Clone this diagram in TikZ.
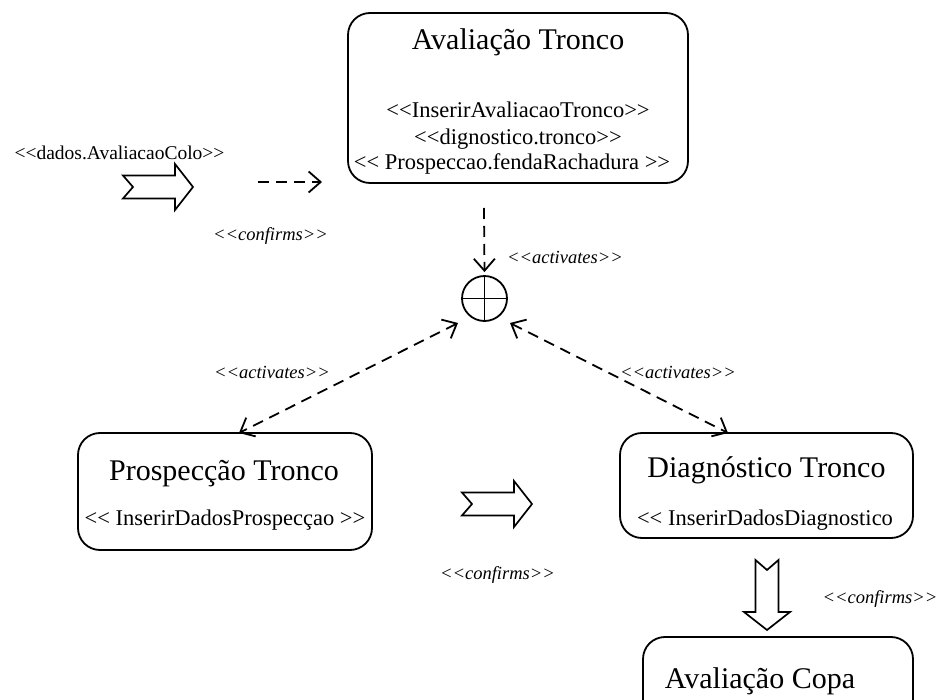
\documentclass[tikz,border=0pt]{standalone}
\usepackage{fontspec}
\setmainfont{Liberation Serif}
\usetikzlibrary{arrows.meta}
\newcommand\dgTitle{\fontsize{30}{34}\selectfont}
\newcommand\dgSub{\fontsize{22.5}{26}\selectfont}
\newcommand\dgLbl{\fontsize{18.5}{22}\selectfont\itshape}
\newcommand\dgData{\fontsize{19.5}{24}\selectfont}
\begin{document}
\begin{tikzpicture}[x=1pt,y=-1pt,
  box/.style={draw, line width=1.8pt, rounded corners=22pt, inner sep=0pt, outer sep=0pt},
  txt/.style={anchor=base, inner sep=0pt},
  barb/.tip={Straight Barb[length=12pt,width=21pt,line width=1.8pt]},
  dep/.style={line width=1.8pt, dash pattern=on 11pt off 7pt, -barb},
  dep2/.style={line width=1.8pt, dash pattern=on 11pt off 7pt, barb-barb},
  blockarrow/.pic={\draw[line width=1.7pt, line join=miter]
    (0,-11.5) -- (52,-11.5) -- (52,-23) -- (70,0) -- (52,23) -- (52,11.5)
    -- (0,11.5) -- (10,0) -- cycle;}]
\fill[white] (0,0) rectangle (940,700);
\clip (0,0) rectangle (940,700);

% state boxes
\node[box, minimum width=340pt, minimum height=170pt] (aval) at (518,98) {};
\node[box, minimum width=294pt, minimum height=117pt] (prosp) at (225,491.5) {};
\node[box, minimum width=293pt, minimum height=105pt] (diag) at (766.5,485.5) {};
\node[box, minimum width=270pt, minimum height=123pt] (copa) at (778,698.5) {};

% box texts
\node[txt] (avalT) at (518,50) {\dgTitle Avaliação Tronco};
\node[txt] (avalA) at (518,117.5) {\dgSub <{}<InserirAvaliacaoTronco>{}>};
\node[txt] (avalB) at (518,144.5) {\dgSub <{}<dignostico.tronco>{}>};
\node[txt] (avalC) at (512,169.5) {\dgSub <{}< Prospeccao.fendaRachadura >{}>};
\node[txt] (prospT) at (224,480) {\dgTitle Prospecção Tronco};
\node[txt] (prospA) at (225,525.5) {\dgSub <{}< InserirDadosProspecçao >{}>};
\node[txt] (diagT) at (766.5,477) {\dgTitle Diagnóstico Tronco};
\node[txt] (diagA) at (765,525.5) {\dgSub <{}< InserirDadosDiagnostico};
\node[txt] (copaT) at (760,688) {\dgTitle Avaliação Copa};

% junction
\node[draw, circle, line width=1.8pt, minimum size=45pt, inner sep=0pt,
  path picture={\draw[line width=1.8pt]
    (path picture bounding box.north) -- (path picture bounding box.south)
    (path picture bounding box.west) -- (path picture bounding box.east);}]
  (join) at (484.5,298.5) {};

% stereotype labels
\node[txt] (dados) at (119.5,160) {\dgData <{}<dados.AvaliacaoColo>{}>};
\node[txt] (conf1) at (270.5,241) {\dgLbl <{}<confirms>{}>};
\node[txt] (act1) at (565,264) {\dgLbl <{}<activates>{}>};
\node[txt] (act2) at (272,379) {\dgLbl <{}<activates>{}>};
\node[txt] (act3) at (678,379) {\dgLbl <{}<activates>{}>};
\node[txt] (conf2) at (497.5,579) {\dgLbl <{}<confirms>{}>};
\node[txt] (conf3) at (880,603) {\dgLbl <{}<confirms>{}>};

% connector end points
\coordinate (inA) at (258,182);
\coordinate (inB) at (322,182);
\coordinate (vtop) at (484,208);
\coordinate (lTop) at (458,323);
\coordinate (lBot) at (239,433);
\coordinate (rTop) at (510,323);
\coordinate (rBot) at (728,433);

% dependencies
\draw[dep] (inA) -- (inB);
\draw[dep, shorten >=3pt] (vtop) -- (join.north);
\draw[dep2] (lTop) -- (lBot);
\draw[dep2] (rTop) -- (rBot);

% transition arrows
\pic at (123,187) {blockarrow};
\pic at (462,504) {blockarrow};
\pic[rotate=-90] at (767,560) {blockarrow};
\end{tikzpicture}
\end{document}
